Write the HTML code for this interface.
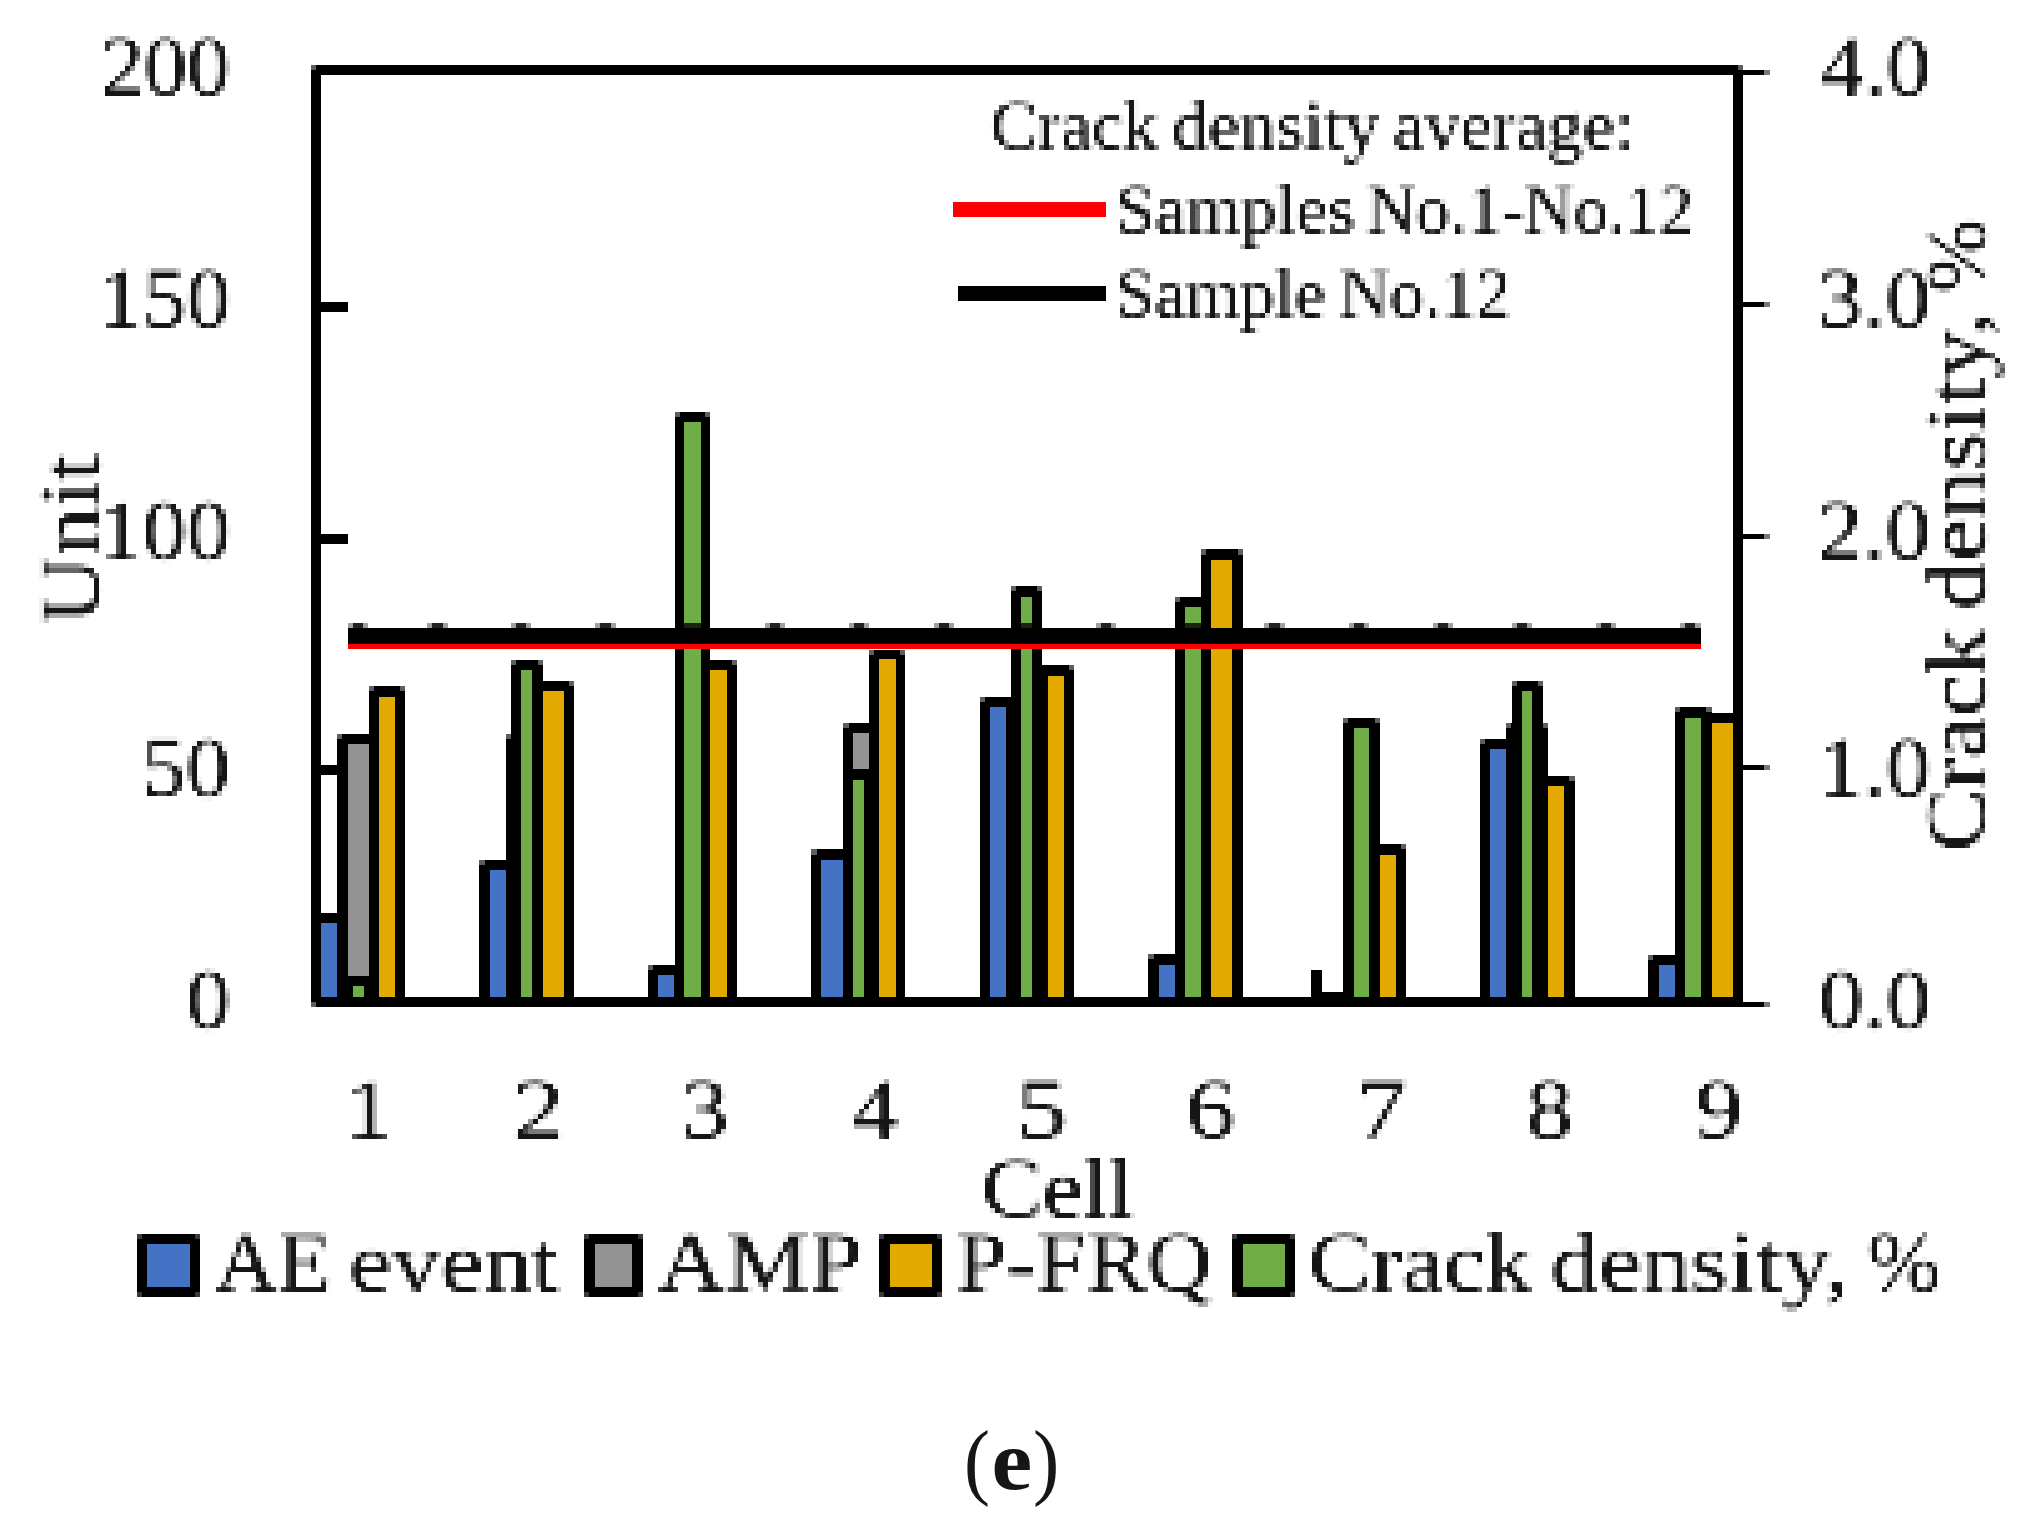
<!DOCTYPE html>
<html lang="en">
<head>
<meta charset="utf-8">
<title>Figure (e)</title>
<style>
html,body{margin:0;padding:0;background:#fff;}
body{width:2040px;height:1531px;overflow:hidden;}
svg{display:block;}
svg text{font-family:"Liberation Serif","DejaVu Serif",serif;fill:#161616;}
</style>
</head>
<body>
<svg width="2040" height="1531" viewBox="0 0 2040 1531">
<defs>
<filter id="f-l0" filterUnits="userSpaceOnUse" x="90" y="23" width="152" height="107" color-interpolation-filters="sRGB"><feGaussianBlur in="SourceGraphic" stdDeviation="1.3" result="b0"/><feComponentTransfer in="b0" result="b"><feFuncA type="linear" slope="1.2" intercept="-0.03"/></feComponentTransfer><feFlood x="92" y="28" width="1" height="1" flood-color="#000" result="f"/><feComposite in="f" in2="f" operator="over" x="90" y="26" width="5" height="5" result="c"/><feTile in="c" result="t"/><feComposite in="b" in2="t" operator="in" result="s"/><feMorphology in="s" operator="dilate" radius="2"/></filter>
<filter id="f-l1" filterUnits="userSpaceOnUse" x="90" y="254" width="152" height="107" color-interpolation-filters="sRGB"><feGaussianBlur in="SourceGraphic" stdDeviation="1.3" result="b0"/><feComponentTransfer in="b0" result="b"><feFuncA type="linear" slope="1.2" intercept="-0.03"/></feComponentTransfer><feFlood x="93" y="260" width="1" height="1" flood-color="#000" result="f"/><feComposite in="f" in2="f" operator="over" x="91" y="258" width="5" height="5" result="c"/><feTile in="c" result="t"/><feComposite in="b" in2="t" operator="in" result="s"/><feMorphology in="s" operator="dilate" radius="2"/></filter>
<filter id="f-l2" filterUnits="userSpaceOnUse" x="90" y="486" width="152" height="107" color-interpolation-filters="sRGB"><feGaussianBlur in="SourceGraphic" stdDeviation="1.3" result="b0"/><feComponentTransfer in="b0" result="b"><feFuncA type="linear" slope="1.2" intercept="-0.03"/></feComponentTransfer><feFlood x="93" y="491" width="1" height="1" flood-color="#000" result="f"/><feComposite in="f" in2="f" operator="over" x="91" y="489" width="5" height="5" result="c"/><feTile in="c" result="t"/><feComposite in="b" in2="t" operator="in" result="s"/><feMorphology in="s" operator="dilate" radius="2"/></filter>
<filter id="f-l3" filterUnits="userSpaceOnUse" x="132" y="723" width="110" height="107" color-interpolation-filters="sRGB"><feGaussianBlur in="SourceGraphic" stdDeviation="1.3" result="b0"/><feComponentTransfer in="b0" result="b"><feFuncA type="linear" slope="1.2" intercept="-0.03"/></feComponentTransfer><feFlood x="134" y="728" width="1" height="1" flood-color="#000" result="f"/><feComposite in="f" in2="f" operator="over" x="132" y="726" width="5" height="5" result="c"/><feTile in="c" result="t"/><feComposite in="b" in2="t" operator="in" result="s"/><feMorphology in="s" operator="dilate" radius="2"/></filter>
<filter id="f-l4" filterUnits="userSpaceOnUse" x="174" y="955" width="68" height="107" color-interpolation-filters="sRGB"><feGaussianBlur in="SourceGraphic" stdDeviation="1.3" result="b0"/><feComponentTransfer in="b0" result="b"><feFuncA type="linear" slope="1.2" intercept="-0.03"/></feComponentTransfer><feFlood x="177" y="960" width="1" height="1" flood-color="#000" result="f"/><feComposite in="f" in2="f" operator="over" x="175" y="958" width="5" height="5" result="c"/><feTile in="c" result="t"/><feComposite in="b" in2="t" operator="in" result="s"/><feMorphology in="s" operator="dilate" radius="2"/></filter>
<filter id="f-r0" filterUnits="userSpaceOnUse" x="1807" y="22" width="136" height="107" color-interpolation-filters="sRGB"><feGaussianBlur in="SourceGraphic" stdDeviation="1.3" result="b0"/><feComponentTransfer in="b0" result="b"><feFuncA type="linear" slope="1.2" intercept="-0.03"/></feComponentTransfer><feFlood x="1809" y="28" width="1" height="1" flood-color="#000" result="f"/><feComposite in="f" in2="f" operator="over" x="1807" y="26" width="5" height="5" result="c"/><feTile in="c" result="t"/><feComposite in="b" in2="t" operator="in" result="s"/><feMorphology in="s" operator="dilate" radius="2"/></filter>
<filter id="f-r1" filterUnits="userSpaceOnUse" x="1807" y="254" width="136" height="107" color-interpolation-filters="sRGB"><feGaussianBlur in="SourceGraphic" stdDeviation="1.3" result="b0"/><feComponentTransfer in="b0" result="b"><feFuncA type="linear" slope="1.2" intercept="-0.03"/></feComponentTransfer><feFlood x="1809" y="260" width="1" height="1" flood-color="#000" result="f"/><feComposite in="f" in2="f" operator="over" x="1807" y="258" width="5" height="5" result="c"/><feTile in="c" result="t"/><feComposite in="b" in2="t" operator="in" result="s"/><feMorphology in="s" operator="dilate" radius="2"/></filter>
<filter id="f-r2" filterUnits="userSpaceOnUse" x="1807" y="486" width="136" height="107" color-interpolation-filters="sRGB"><feGaussianBlur in="SourceGraphic" stdDeviation="1.3" result="b0"/><feComponentTransfer in="b0" result="b"><feFuncA type="linear" slope="1.2" intercept="-0.03"/></feComponentTransfer><feFlood x="1809" y="492" width="1" height="1" flood-color="#000" result="f"/><feComposite in="f" in2="f" operator="over" x="1807" y="490" width="5" height="5" result="c"/><feTile in="c" result="t"/><feComposite in="b" in2="t" operator="in" result="s"/><feMorphology in="s" operator="dilate" radius="2"/></filter>
<filter id="f-r3" filterUnits="userSpaceOnUse" x="1810" y="724" width="132" height="107" color-interpolation-filters="sRGB"><feGaussianBlur in="SourceGraphic" stdDeviation="1.3" result="b0"/><feComponentTransfer in="b0" result="b"><feFuncA type="linear" slope="1.2" intercept="-0.03"/></feComponentTransfer><feFlood x="1813" y="729" width="1" height="1" flood-color="#000" result="f"/><feComposite in="f" in2="f" operator="over" x="1811" y="727" width="5" height="5" result="c"/><feTile in="c" result="t"/><feComposite in="b" in2="t" operator="in" result="s"/><feMorphology in="s" operator="dilate" radius="2"/></filter>
<filter id="f-r4" filterUnits="userSpaceOnUse" x="1807" y="955" width="136" height="107" color-interpolation-filters="sRGB"><feGaussianBlur in="SourceGraphic" stdDeviation="1.3" result="b0"/><feComponentTransfer in="b0" result="b"><feFuncA type="linear" slope="1.2" intercept="-0.03"/></feComponentTransfer><feFlood x="1809" y="960" width="1" height="1" flood-color="#000" result="f"/><feComposite in="f" in2="f" operator="over" x="1807" y="958" width="5" height="5" result="c"/><feTile in="c" result="t"/><feComposite in="b" in2="t" operator="in" result="s"/><feMorphology in="s" operator="dilate" radius="2"/></filter>
<filter id="f-x0" filterUnits="userSpaceOnUse" x="337" y="1065" width="65" height="107" color-interpolation-filters="sRGB"><feGaussianBlur in="SourceGraphic" stdDeviation="1.3" result="b0"/><feComponentTransfer in="b0" result="b"><feFuncA type="linear" slope="1.2" intercept="-0.03"/></feComponentTransfer><feFlood x="339" y="1071" width="1" height="1" flood-color="#000" result="f"/><feComposite in="f" in2="f" operator="over" x="337" y="1069" width="5" height="5" result="c"/><feTile in="c" result="t"/><feComposite in="b" in2="t" operator="in" result="s"/><feMorphology in="s" operator="dilate" radius="2"/></filter>
<filter id="f-x1" filterUnits="userSpaceOnUse" x="502" y="1065" width="72" height="107" color-interpolation-filters="sRGB"><feGaussianBlur in="SourceGraphic" stdDeviation="1.3" result="b0"/><feComponentTransfer in="b0" result="b"><feFuncA type="linear" slope="1.2" intercept="-0.03"/></feComponentTransfer><feFlood x="505" y="1071" width="1" height="1" flood-color="#000" result="f"/><feComposite in="f" in2="f" operator="over" x="503" y="1069" width="5" height="5" result="c"/><feTile in="c" result="t"/><feComposite in="b" in2="t" operator="in" result="s"/><feMorphology in="s" operator="dilate" radius="2"/></filter>
<filter id="f-x2" filterUnits="userSpaceOnUse" x="671" y="1065" width="69" height="107" color-interpolation-filters="sRGB"><feGaussianBlur in="SourceGraphic" stdDeviation="1.3" result="b0"/><feComponentTransfer in="b0" result="b"><feFuncA type="linear" slope="1.2" intercept="-0.03"/></feComponentTransfer><feFlood x="673" y="1071" width="1" height="1" flood-color="#000" result="f"/><feComposite in="f" in2="f" operator="over" x="671" y="1069" width="5" height="5" result="c"/><feTile in="c" result="t"/><feComposite in="b" in2="t" operator="in" result="s"/><feMorphology in="s" operator="dilate" radius="2"/></filter>
<filter id="f-x3" filterUnits="userSpaceOnUse" x="839" y="1065" width="73" height="107" color-interpolation-filters="sRGB"><feGaussianBlur in="SourceGraphic" stdDeviation="1.3" result="b0"/><feComponentTransfer in="b0" result="b"><feFuncA type="linear" slope="1.2" intercept="-0.03"/></feComponentTransfer><feFlood x="841" y="1071" width="1" height="1" flood-color="#000" result="f"/><feComposite in="f" in2="f" operator="over" x="839" y="1069" width="5" height="5" result="c"/><feTile in="c" result="t"/><feComposite in="b" in2="t" operator="in" result="s"/><feMorphology in="s" operator="dilate" radius="2"/></filter>
<filter id="f-x4" filterUnits="userSpaceOnUse" x="1007" y="1065" width="72" height="107" color-interpolation-filters="sRGB"><feGaussianBlur in="SourceGraphic" stdDeviation="1.3" result="b0"/><feComponentTransfer in="b0" result="b"><feFuncA type="linear" slope="1.2" intercept="-0.03"/></feComponentTransfer><feFlood x="1009" y="1071" width="1" height="1" flood-color="#000" result="f"/><feComposite in="f" in2="f" operator="over" x="1007" y="1069" width="5" height="5" result="c"/><feTile in="c" result="t"/><feComposite in="b" in2="t" operator="in" result="s"/><feMorphology in="s" operator="dilate" radius="2"/></filter>
<filter id="f-x5" filterUnits="userSpaceOnUse" x="1175" y="1065" width="72" height="107" color-interpolation-filters="sRGB"><feGaussianBlur in="SourceGraphic" stdDeviation="1.3" result="b0"/><feComponentTransfer in="b0" result="b"><feFuncA type="linear" slope="1.2" intercept="-0.03"/></feComponentTransfer><feFlood x="1177" y="1071" width="1" height="1" flood-color="#000" result="f"/><feComposite in="f" in2="f" operator="over" x="1175" y="1069" width="5" height="5" result="c"/><feTile in="c" result="t"/><feComposite in="b" in2="t" operator="in" result="s"/><feMorphology in="s" operator="dilate" radius="2"/></filter>
<filter id="f-x6" filterUnits="userSpaceOnUse" x="1347" y="1065" width="72" height="107" color-interpolation-filters="sRGB"><feGaussianBlur in="SourceGraphic" stdDeviation="1.3" result="b0"/><feComponentTransfer in="b0" result="b"><feFuncA type="linear" slope="1.2" intercept="-0.03"/></feComponentTransfer><feFlood x="1349" y="1071" width="1" height="1" flood-color="#000" result="f"/><feComposite in="f" in2="f" operator="over" x="1347" y="1069" width="5" height="5" result="c"/><feTile in="c" result="t"/><feComposite in="b" in2="t" operator="in" result="s"/><feMorphology in="s" operator="dilate" radius="2"/></filter>
<filter id="f-x7" filterUnits="userSpaceOnUse" x="1515" y="1065" width="69" height="107" color-interpolation-filters="sRGB"><feGaussianBlur in="SourceGraphic" stdDeviation="1.3" result="b0"/><feComponentTransfer in="b0" result="b"><feFuncA type="linear" slope="1.2" intercept="-0.03"/></feComponentTransfer><feFlood x="1517" y="1071" width="1" height="1" flood-color="#000" result="f"/><feComposite in="f" in2="f" operator="over" x="1515" y="1069" width="5" height="5" result="c"/><feTile in="c" result="t"/><feComposite in="b" in2="t" operator="in" result="s"/><feMorphology in="s" operator="dilate" radius="2"/></filter>
<filter id="f-x8" filterUnits="userSpaceOnUse" x="1684" y="1065" width="70" height="107" color-interpolation-filters="sRGB"><feGaussianBlur in="SourceGraphic" stdDeviation="1.3" result="b0"/><feComponentTransfer in="b0" result="b"><feFuncA type="linear" slope="1.2" intercept="-0.03"/></feComponentTransfer><feFlood x="1686" y="1071" width="1" height="1" flood-color="#000" result="f"/><feComposite in="f" in2="f" operator="over" x="1684" y="1069" width="5" height="5" result="c"/><feTile in="c" result="t"/><feComposite in="b" in2="t" operator="in" result="s"/><feMorphology in="s" operator="dilate" radius="2"/></filter>
<filter id="f-cell" filterUnits="userSpaceOnUse" x="970" y="1145" width="177" height="107" color-interpolation-filters="sRGB"><feGaussianBlur in="SourceGraphic" stdDeviation="1.3" result="b0"/><feComponentTransfer in="b0" result="b"><feFuncA type="linear" slope="1.2" intercept="-0.03"/></feComponentTransfer><feFlood x="972" y="1150" width="1" height="1" flood-color="#000" result="f"/><feComposite in="f" in2="f" operator="over" x="970" y="1148" width="5" height="5" result="c"/><feTile in="c" result="t"/><feComposite in="b" in2="t" operator="in" result="s"/><feMorphology in="s" operator="dilate" radius="2"/></filter>
<filter id="f-lg0" filterUnits="userSpaceOnUse" x="200" y="1219" width="374" height="107" color-interpolation-filters="sRGB"><feGaussianBlur in="SourceGraphic" stdDeviation="1.3" result="b0"/><feComponentTransfer in="b0" result="b"><feFuncA type="linear" slope="1.2" intercept="-0.03"/></feComponentTransfer><feFlood x="203" y="1224" width="1" height="1" flood-color="#000" result="f"/><feComposite in="f" in2="f" operator="over" x="201" y="1222" width="5" height="5" result="c"/><feTile in="c" result="t"/><feComposite in="b" in2="t" operator="in" result="s"/><feMorphology in="s" operator="dilate" radius="2"/></filter>
<filter id="f-lg1" filterUnits="userSpaceOnUse" x="643" y="1219" width="231" height="107" color-interpolation-filters="sRGB"><feGaussianBlur in="SourceGraphic" stdDeviation="1.3" result="b0"/><feComponentTransfer in="b0" result="b"><feFuncA type="linear" slope="1.2" intercept="-0.03"/></feComponentTransfer><feFlood x="645" y="1224" width="1" height="1" flood-color="#000" result="f"/><feComposite in="f" in2="f" operator="over" x="643" y="1222" width="5" height="5" result="c"/><feTile in="c" result="t"/><feComposite in="b" in2="t" operator="in" result="s"/><feMorphology in="s" operator="dilate" radius="2"/></filter>
<filter id="f-lg2" filterUnits="userSpaceOnUse" x="943" y="1219" width="283" height="107" color-interpolation-filters="sRGB"><feGaussianBlur in="SourceGraphic" stdDeviation="1.3" result="b0"/><feComponentTransfer in="b0" result="b"><feFuncA type="linear" slope="1.2" intercept="-0.03"/></feComponentTransfer><feFlood x="945" y="1224" width="1" height="1" flood-color="#000" result="f"/><feComposite in="f" in2="f" operator="over" x="943" y="1222" width="5" height="5" result="c"/><feTile in="c" result="t"/><feComposite in="b" in2="t" operator="in" result="s"/><feMorphology in="s" operator="dilate" radius="2"/></filter>
<filter id="f-lg3" filterUnits="userSpaceOnUse" x="1296" y="1219" width="656" height="107" color-interpolation-filters="sRGB"><feGaussianBlur in="SourceGraphic" stdDeviation="1.3" result="b0"/><feComponentTransfer in="b0" result="b"><feFuncA type="linear" slope="1.2" intercept="-0.03"/></feComponentTransfer><feFlood x="1299" y="1224" width="1" height="1" flood-color="#000" result="f"/><feComposite in="f" in2="f" operator="over" x="1297" y="1222" width="5" height="5" result="c"/><feTile in="c" result="t"/><feComposite in="b" in2="t" operator="in" result="s"/><feMorphology in="s" operator="dilate" radius="2"/></filter>
<filter id="f-t0" filterUnits="userSpaceOnUse" x="978" y="89" width="665" height="88" color-interpolation-filters="sRGB"><feGaussianBlur in="SourceGraphic" stdDeviation="1.3" result="b0"/><feComponentTransfer in="b0" result="b"><feFuncA type="linear" slope="1.2" intercept="-0.03"/></feComponentTransfer><feFlood x="981" y="92" width="1" height="1" flood-color="#000" result="f"/><feComposite in="f" in2="f" operator="over" x="979" y="90" width="5" height="5" result="c"/><feTile in="c" result="t"/><feComposite in="b" in2="t" operator="in" result="s"/><feMorphology in="s" operator="dilate" radius="2"/></filter>
<filter id="f-t1" filterUnits="userSpaceOnUse" x="1105" y="173" width="600" height="88" color-interpolation-filters="sRGB"><feGaussianBlur in="SourceGraphic" stdDeviation="1.3" result="b0"/><feComponentTransfer in="b0" result="b"><feFuncA type="linear" slope="1.2" intercept="-0.03"/></feComponentTransfer><feFlood x="1107" y="176" width="1" height="1" flood-color="#000" result="f"/><feComposite in="f" in2="f" operator="over" x="1105" y="174" width="5" height="5" result="c"/><feTile in="c" result="t"/><feComposite in="b" in2="t" operator="in" result="s"/><feMorphology in="s" operator="dilate" radius="2"/></filter>
<filter id="f-t2" filterUnits="userSpaceOnUse" x="1105" y="257" width="417" height="88" color-interpolation-filters="sRGB"><feGaussianBlur in="SourceGraphic" stdDeviation="1.3" result="b0"/><feComponentTransfer in="b0" result="b"><feFuncA type="linear" slope="1.2" intercept="-0.03"/></feComponentTransfer><feFlood x="1107" y="260" width="1" height="1" flood-color="#000" result="f"/><feComposite in="f" in2="f" operator="over" x="1105" y="258" width="5" height="5" result="c"/><feTile in="c" result="t"/><feComposite in="b" in2="t" operator="in" result="s"/><feMorphology in="s" operator="dilate" radius="2"/></filter>
<filter id="f-unit" filterUnits="userSpaceOnUse" x="27" y="439" width="107" height="199" color-interpolation-filters="sRGB"><feGaussianBlur in="SourceGraphic" stdDeviation="1.3" result="b0"/><feComponentTransfer in="b0" result="b"><feFuncA type="linear" slope="1.2" intercept="-0.03"/></feComponentTransfer><feFlood x="31" y="445" width="1" height="1" flood-color="#000" result="f"/><feComposite in="f" in2="f" operator="over" x="29" y="443" width="5" height="5" result="c"/><feTile in="c" result="t"/><feComposite in="b" in2="t" operator="in" result="s"/><feMorphology in="s" operator="dilate" radius="2"/></filter>
<filter id="f-cd" filterUnits="userSpaceOnUse" x="1912" y="207" width="107" height="657" color-interpolation-filters="sRGB"><feGaussianBlur in="SourceGraphic" stdDeviation="1.3" result="b0"/><feComponentTransfer in="b0" result="b"><feFuncA type="linear" slope="1.2" intercept="-0.03"/></feComponentTransfer><feFlood x="1917" y="210" width="1" height="1" flood-color="#000" result="f"/><feComposite in="f" in2="f" operator="over" x="1915" y="208" width="5" height="5" result="c"/><feTile in="c" result="t"/><feComposite in="b" in2="t" operator="in" result="s"/><feMorphology in="s" operator="dilate" radius="2"/></filter>
</defs>
<rect width="2040" height="1531" fill="#fff"/>
<g shape-rendering="crispEdges">
<g id="axes">
<rect x="311.0" y="64.8" width="1432.0" height="10.1"/>
<rect x="311.0" y="997.0" width="1432.0" height="10.1"/>
<rect x="311.0" y="64.8" width="10.0" height="942.3"/>
<rect x="1733.0" y="64.8" width="10.0" height="942.3"/>
<rect x="311.0" y="64.8" width="5.1" height="5.1" fill="#5e5e5e"/>
<rect x="311.0" y="1002.0" width="5.1" height="5.1" fill="#5e5e5e"/>
<rect x="321.0" y="301.5" width="26.5" height="10.1"/>
<rect x="321.0" y="533.5" width="26.5" height="10.1"/>
<rect x="321.0" y="765.3" width="26.5" height="10.1"/>
<rect x="1743.0" y="70.0" width="26.5" height="5.1"/>
<rect x="1764.4" y="70.0" width="5.1" height="5.1" fill="#777"/>
<rect x="1743.0" y="301.6" width="26.5" height="5.1"/>
<rect x="1764.4" y="301.6" width="5.1" height="5.1" fill="#777"/>
<rect x="1743.0" y="533.6" width="26.5" height="5.1"/>
<rect x="1764.4" y="533.6" width="5.1" height="5.1" fill="#777"/>
<rect x="1743.0" y="765.3" width="26.5" height="5.1"/>
<rect x="1764.4" y="765.3" width="5.1" height="5.1" fill="#777"/>
<rect x="1743.0" y="1002.0" width="26.5" height="5.1"/>
<rect x="1764.4" y="1002.0" width="5.1" height="5.1" fill="#777"/>
<rect x="1737.9" y="64.8" width="5.1" height="5.1" fill="#5e5e5e"/>
</g>
<g id="bars-outline">
<rect x="311.0" y="912.5" width="36.6" height="84.5"/>
<rect x="337.2" y="733.8" width="41.8" height="263.2"/>
<rect x="368.9" y="686.2" width="36.5" height="310.8"/>
<rect x="479.4" y="859.9" width="36.6" height="137.1"/>
<rect x="505.9" y="733.8" width="15.1" height="263.2"/>
<rect x="510.9" y="659.9" width="31.8" height="337.1"/>
<rect x="532.0" y="681.0" width="41.7" height="316.0"/>
<rect x="648.0" y="965.3" width="36.5" height="31.7"/>
<rect x="674.5" y="412.1" width="35.7" height="584.9"/>
<rect x="700.9" y="660.3" width="36.0" height="336.7"/>
<rect x="811.4" y="849.4" width="41.7" height="147.6"/>
<rect x="843.4" y="723.1" width="35.6" height="273.9"/>
<rect x="868.9" y="649.8" width="36.4" height="347.2"/>
<rect x="979.6" y="697.0" width="41.8" height="300.0"/>
<rect x="1011.3" y="586.3" width="31.0" height="410.7"/>
<rect x="1037.3" y="665.3" width="36.3" height="331.7"/>
<rect x="1148.4" y="954.3" width="36.3" height="42.7"/>
<rect x="1174.5" y="596.7" width="36.5" height="400.3"/>
<rect x="1201.0" y="549.4" width="41.8" height="447.6"/>
<rect x="1311.3" y="970.3" width="10.2" height="26.7"/>
<rect x="1321.5" y="991.5" width="22.0" height="5.5"/>
<rect x="1343.3" y="717.6" width="36.3" height="279.4"/>
<rect x="1369.3" y="844.0" width="36.4" height="153.0"/>
<rect x="1480.1" y="738.7" width="36.4" height="258.3"/>
<rect x="1506.3" y="723.1" width="42.0" height="273.9"/>
<rect x="1511.7" y="681.0" width="31.2" height="316.0"/>
<rect x="1538.0" y="775.7" width="36.5" height="221.3"/>
<rect x="1648.3" y="954.8" width="36.7" height="42.2"/>
<rect x="1675.0" y="707.2" width="36.5" height="289.8"/>
<rect x="1701.0" y="712.6" width="42.0" height="284.4"/>
<rect x="337.2" y="733.8" width="5.1" height="5.1" fill="#5e5e5e"/>
<rect x="368.9" y="686.2" width="5.1" height="5.1" fill="#5e5e5e"/>
<rect x="400.3" y="686.2" width="5.1" height="5.1" fill="#5e5e5e"/>
<rect x="479.4" y="859.9" width="5.1" height="5.1" fill="#5e5e5e"/>
<rect x="505.9" y="733.8" width="5.1" height="5.1" fill="#5e5e5e"/>
<rect x="510.9" y="659.9" width="5.1" height="5.1" fill="#5e5e5e"/>
<rect x="537.6" y="659.9" width="5.1" height="5.1" fill="#5e5e5e"/>
<rect x="568.6" y="681.0" width="5.1" height="5.1" fill="#5e5e5e"/>
<rect x="648.0" y="965.3" width="5.1" height="5.1" fill="#5e5e5e"/>
<rect x="674.5" y="412.1" width="5.1" height="5.1" fill="#5e5e5e"/>
<rect x="705.1" y="412.1" width="5.1" height="5.1" fill="#5e5e5e"/>
<rect x="731.8" y="660.3" width="5.1" height="5.1" fill="#5e5e5e"/>
<rect x="811.4" y="849.4" width="5.1" height="5.1" fill="#5e5e5e"/>
<rect x="843.4" y="723.1" width="5.1" height="5.1" fill="#5e5e5e"/>
<rect x="868.9" y="649.8" width="5.1" height="5.1" fill="#5e5e5e"/>
<rect x="900.2" y="649.8" width="5.1" height="5.1" fill="#5e5e5e"/>
<rect x="979.6" y="697.0" width="5.1" height="5.1" fill="#5e5e5e"/>
<rect x="1011.3" y="586.3" width="5.1" height="5.1" fill="#5e5e5e"/>
<rect x="1037.2" y="586.3" width="5.1" height="5.1" fill="#5e5e5e"/>
<rect x="1068.5" y="665.3" width="5.1" height="5.1" fill="#5e5e5e"/>
<rect x="1148.4" y="954.3" width="5.1" height="5.1" fill="#5e5e5e"/>
<rect x="1174.5" y="596.7" width="5.1" height="5.1" fill="#5e5e5e"/>
<rect x="1201.0" y="549.4" width="5.1" height="5.1" fill="#5e5e5e"/>
<rect x="1237.7" y="549.4" width="5.1" height="5.1" fill="#5e5e5e"/>
<rect x="1343.3" y="717.6" width="5.1" height="5.1" fill="#5e5e5e"/>
<rect x="1374.5" y="717.6" width="5.1" height="5.1" fill="#5e5e5e"/>
<rect x="1400.6" y="844.0" width="5.1" height="5.1" fill="#5e5e5e"/>
<rect x="1480.1" y="738.7" width="5.1" height="5.1" fill="#5e5e5e"/>
<rect x="1506.3" y="723.1" width="5.1" height="5.1" fill="#5e5e5e"/>
<rect x="1543.2" y="723.1" width="5.1" height="5.1" fill="#5e5e5e"/>
<rect x="1511.7" y="681.0" width="5.1" height="5.1" fill="#5e5e5e"/>
<rect x="1537.8" y="681.0" width="5.1" height="5.1" fill="#5e5e5e"/>
<rect x="1569.4" y="775.7" width="5.1" height="5.1" fill="#5e5e5e"/>
<rect x="1648.3" y="954.8" width="5.1" height="5.1" fill="#5e5e5e"/>
<rect x="1675.0" y="707.2" width="5.1" height="5.1" fill="#5e5e5e"/>
<rect x="1706.4" y="707.2" width="5.1" height="5.1" fill="#5e5e5e"/>
</g>
<g id="bars-fill">
<rect x="321.0" y="923.0" width="16.2" height="74.0" fill="#4472C4"/>
<rect x="347.6" y="743.7" width="21.3" height="231.9" fill="#939393"/>
<rect x="352.8" y="985.5" width="10.9" height="11.5" fill="#70AD47"/>
<rect x="378.9" y="696.6" width="16.3" height="300.4" fill="#E2AA00"/>
<rect x="489.8" y="870.3" width="16.1" height="126.7" fill="#4472C4"/>
<rect x="520.8" y="669.8" width="11.2" height="327.2" fill="#70AD47"/>
<rect x="542.7" y="691.4" width="20.8" height="305.6" fill="#E2AA00"/>
<rect x="658.0" y="975.3" width="16.4" height="21.7" fill="#4472C4"/>
<rect x="684.4" y="422.3" width="16.5" height="574.7" fill="#70AD47"/>
<rect x="710.2" y="670.0" width="17.0" height="327.0" fill="#E2AA00"/>
<rect x="821.1" y="859.5" width="22.3" height="137.5" fill="#4472C4"/>
<rect x="853.1" y="732.8" width="15.8" height="36.4" fill="#939393"/>
<rect x="853.1" y="779.8" width="10.9" height="217.2" fill="#70AD47"/>
<rect x="879.0" y="659.1" width="17.0" height="337.9" fill="#E2AA00"/>
<rect x="990.0" y="707.1" width="15.7" height="289.9" fill="#4472C4"/>
<rect x="1021.4" y="596.7" width="10.4" height="400.3" fill="#70AD47"/>
<rect x="1047.5" y="675.8" width="16.3" height="321.2" fill="#E2AA00"/>
<rect x="1158.5" y="964.7" width="16.0" height="32.3" fill="#4472C4"/>
<rect x="1184.7" y="607.2" width="16.3" height="389.8" fill="#70AD47"/>
<rect x="1210.8" y="559.8" width="21.2" height="437.2" fill="#E2AA00"/>
<rect x="1353.6" y="728.1" width="15.7" height="268.9" fill="#70AD47"/>
<rect x="1379.5" y="854.5" width="16.0" height="142.5" fill="#E2AA00"/>
<rect x="1490.4" y="749.2" width="15.9" height="247.8" fill="#4472C4"/>
<rect x="1521.9" y="691.3" width="10.5" height="305.7" fill="#70AD47"/>
<rect x="1548.3" y="785.9" width="15.7" height="211.1" fill="#E2AA00"/>
<rect x="1658.8" y="964.9" width="16.2" height="32.1" fill="#4472C4"/>
<rect x="1685.0" y="717.7" width="16.0" height="279.3" fill="#70AD47"/>
<rect x="1711.5" y="723.1" width="21.5" height="273.9" fill="#E2AA00"/>
</g>
<g id="avg-lines">
<rect x="347.6" y="633.0" width="1353.4" height="16.0" fill="#FF0000"/>
<rect x="347.6" y="628.0" width="1353.4" height="15.7"/>
<rect x="347.6" y="622.9" width="20.6" height="5.3" fill="#a0a0a0"/>
<rect x="352.7" y="622.9" width="10.4" height="5.3" fill="#222"/>
<rect x="427.0" y="622.9" width="20.6" height="5.3" fill="#a0a0a0"/>
<rect x="432.1" y="622.9" width="10.4" height="5.3" fill="#222"/>
<rect x="510.8" y="622.9" width="20.6" height="5.3" fill="#a0a0a0"/>
<rect x="515.9" y="622.9" width="10.4" height="5.3" fill="#222"/>
<rect x="595.0" y="622.9" width="20.6" height="5.3" fill="#a0a0a0"/>
<rect x="600.1" y="622.9" width="10.4" height="5.3" fill="#222"/>
<rect x="764.8" y="622.9" width="20.6" height="5.3" fill="#a0a0a0"/>
<rect x="769.9" y="622.9" width="10.4" height="5.3" fill="#222"/>
<rect x="848.6" y="622.9" width="20.6" height="5.3" fill="#a0a0a0"/>
<rect x="853.7" y="622.9" width="10.4" height="5.3" fill="#222"/>
<rect x="933.6" y="622.9" width="20.6" height="5.3" fill="#a0a0a0"/>
<rect x="938.7" y="622.9" width="10.4" height="5.3" fill="#222"/>
<rect x="1095.5" y="622.9" width="20.6" height="5.3" fill="#a0a0a0"/>
<rect x="1100.6" y="622.9" width="10.4" height="5.3" fill="#222"/>
<rect x="1264.3" y="622.9" width="20.6" height="5.3" fill="#a0a0a0"/>
<rect x="1269.4" y="622.9" width="10.4" height="5.3" fill="#222"/>
<rect x="1348.6" y="622.9" width="20.6" height="5.3" fill="#a0a0a0"/>
<rect x="1353.7" y="622.9" width="10.4" height="5.3" fill="#222"/>
<rect x="1432.7" y="622.9" width="20.6" height="5.3" fill="#a0a0a0"/>
<rect x="1437.8" y="622.9" width="10.4" height="5.3" fill="#222"/>
<rect x="1511.7" y="622.9" width="20.6" height="5.3" fill="#a0a0a0"/>
<rect x="1516.8" y="622.9" width="10.4" height="5.3" fill="#222"/>
<rect x="1595.8" y="622.9" width="20.6" height="5.3" fill="#a0a0a0"/>
<rect x="1600.9" y="622.9" width="10.4" height="5.3" fill="#222"/>
<rect x="1679.9" y="622.9" width="20.6" height="5.3" fill="#a0a0a0"/>
<rect x="1685.0" y="622.9" width="10.4" height="5.3" fill="#222"/>
<rect x="684.4" y="622.9" width="16.5" height="5.3" fill="#18240f"/>
<rect x="1021.4" y="622.9" width="10.4" height="5.3" fill="#18240f"/>
<rect x="1184.7" y="622.9" width="16.3" height="5.3" fill="#18240f"/>
</g>
<g id="legend-marks">
<rect x="953.4" y="201.6" width="152.2" height="15.3" fill="#FF0000"/>
<rect x="958.4" y="285.7" width="147.2" height="15.3"/>
<rect x="136.7" y="1233.8" width="63.4" height="63.2"/><rect x="147.0" y="1244.3" width="42.9" height="42.3" fill="#4472C4"/><rect x="136.7" y="1233.8" width="5.1" height="5.1" fill="#3a3a3a"/><rect x="195.0" y="1233.8" width="5.1" height="5.1" fill="#3a3a3a"/><rect x="136.7" y="1291.9" width="5.1" height="5.1" fill="#3a3a3a"/><rect x="195.0" y="1291.9" width="5.1" height="5.1" fill="#3a3a3a"/>
<rect x="584.0" y="1233.8" width="58.6" height="63.2"/><rect x="594.8" y="1244.3" width="37.5" height="42.3" fill="#939393"/><rect x="584.0" y="1233.8" width="5.1" height="5.1" fill="#3a3a3a"/><rect x="637.5" y="1233.8" width="5.1" height="5.1" fill="#3a3a3a"/><rect x="584.0" y="1291.9" width="5.1" height="5.1" fill="#3a3a3a"/><rect x="637.5" y="1291.9" width="5.1" height="5.1" fill="#3a3a3a"/>
<rect x="879.1" y="1233.8" width="63.3" height="63.2"/><rect x="890.1" y="1244.3" width="42.0" height="42.3" fill="#E2AA00"/><rect x="879.1" y="1233.8" width="5.1" height="5.1" fill="#3a3a3a"/><rect x="937.3" y="1233.8" width="5.1" height="5.1" fill="#3a3a3a"/><rect x="879.1" y="1291.9" width="5.1" height="5.1" fill="#3a3a3a"/><rect x="937.3" y="1291.9" width="5.1" height="5.1" fill="#3a3a3a"/>
<rect x="1231.7" y="1233.8" width="63.3" height="63.2"/><rect x="1242.8" y="1244.3" width="41.8" height="42.3" fill="#70AD47"/><rect x="1231.7" y="1233.8" width="5.1" height="5.1" fill="#3a3a3a"/><rect x="1289.9" y="1233.8" width="5.1" height="5.1" fill="#3a3a3a"/><rect x="1231.7" y="1291.9" width="5.1" height="5.1" fill="#3a3a3a"/><rect x="1289.9" y="1291.9" width="5.1" height="5.1" fill="#3a3a3a"/>
</g>
</g>
<g id="labels">
<g filter="url(#f-l0)"><text id="l0" y="95.4" font-size="85"><tspan x="101.0" textLength="129.1" lengthAdjust="spacingAndGlyphs">200</tspan></text></g>
<g filter="url(#f-l1)"><text id="l1" y="326.8" font-size="85"><tspan x="98.6" textLength="132.0" lengthAdjust="spacingAndGlyphs">150</tspan></text></g>
<g filter="url(#f-l2)"><text id="l2" y="558.5" font-size="85"><tspan x="98.6" textLength="132.0" lengthAdjust="spacingAndGlyphs">100</tspan></text></g>
<g filter="url(#f-l3)"><text id="l3" y="795.7" font-size="85"><tspan x="142.0" textLength="88.0" lengthAdjust="spacingAndGlyphs">50</tspan></text></g>
<g filter="url(#f-l4)"><text id="l4" y="1027.5" font-size="85"><tspan x="186.5" textLength="44.0" lengthAdjust="spacingAndGlyphs">0</tspan></text></g>
<g filter="url(#f-r0)"><text id="r0" y="95.0" font-size="85"><tspan x="1819.9" textLength="110.8" lengthAdjust="spacingAndGlyphs">4.0</tspan></text></g>
<g filter="url(#f-r1)"><text id="r1" y="326.8" font-size="85"><tspan x="1817.7" textLength="113.0" lengthAdjust="spacingAndGlyphs">3.0</tspan></text></g>
<g filter="url(#f-r2)"><text id="r2" y="558.7" font-size="85"><tspan x="1817.7" textLength="113.0" lengthAdjust="spacingAndGlyphs">2.0</tspan></text></g>
<g filter="url(#f-r3)"><text id="r3" y="796.4" font-size="85"><tspan x="1818.1" textLength="112.7" lengthAdjust="spacingAndGlyphs">1.0</tspan></text></g>
<g filter="url(#f-r4)"><text id="r4" y="1027.6" font-size="85"><tspan x="1818.8" textLength="111.9" lengthAdjust="spacingAndGlyphs">0.0</tspan></text></g>
<g filter="url(#f-x0)"><text id="x0" y="1138.2" font-size="85"><tspan x="344.6" textLength="48.0" lengthAdjust="spacingAndGlyphs">1</tspan></text></g>
<g filter="url(#f-x1)"><text id="x1" y="1138.2" font-size="85"><tspan x="512.6" textLength="51.9" lengthAdjust="spacingAndGlyphs">2</tspan></text></g>
<g filter="url(#f-x2)"><text id="x2" y="1138.2" font-size="85"><tspan x="681.5" textLength="47.4" lengthAdjust="spacingAndGlyphs">3</tspan></text></g>
<g filter="url(#f-x3)"><text id="x3" y="1138.2" font-size="85"><tspan x="851.8" textLength="46.3" lengthAdjust="spacingAndGlyphs">4</tspan></text></g>
<g filter="url(#f-x4)"><text id="x4" y="1138.2" font-size="85"><tspan x="1016.3" textLength="51.5" lengthAdjust="spacingAndGlyphs">5</tspan></text></g>
<g filter="url(#f-x5)"><text id="x5" y="1138.2" font-size="85"><tspan x="1185.9" textLength="49.1" lengthAdjust="spacingAndGlyphs">6</tspan></text></g>
<g filter="url(#f-x6)"><text id="x6" y="1138.2" font-size="85"><tspan x="1356.6" textLength="50.4" lengthAdjust="spacingAndGlyphs">7</tspan></text></g>
<g filter="url(#f-x7)"><text id="x7" y="1138.2" font-size="85"><tspan x="1526.8" textLength="46.0" lengthAdjust="spacingAndGlyphs">8</tspan></text></g>
<g filter="url(#f-x8)"><text id="x8" y="1138.2" font-size="85"><tspan x="1695.7" textLength="46.6" lengthAdjust="spacingAndGlyphs">9</tspan></text></g>
<g filter="url(#f-cell)"><text id="cell" y="1217.3" font-size="85"><tspan x="981.8" textLength="151.9" lengthAdjust="spacingAndGlyphs">Cell</tspan></text></g>
<g filter="url(#f-lg0)"><text id="lg0" y="1291.4" font-size="85"><tspan x="214.6" textLength="117.0" lengthAdjust="spacingAndGlyphs">AE</tspan> <tspan x="349.0" textLength="209.8" lengthAdjust="spacingAndGlyphs">event</tspan></text></g>
<g filter="url(#f-lg1)"><text id="lg1" y="1291.4" font-size="85"><tspan x="656.9" textLength="205.7" lengthAdjust="spacingAndGlyphs">AMP</tspan></text></g>
<g filter="url(#f-lg2)"><text id="lg2" y="1291.4" font-size="85"><tspan x="956.4" textLength="255.5" lengthAdjust="spacingAndGlyphs">P-FRQ</tspan></text></g>
<g filter="url(#f-lg3)"><text id="lg3" y="1291.4" font-size="85"><tspan x="1308.5" textLength="223.1" lengthAdjust="spacingAndGlyphs">Crack</tspan> <tspan x="1550.6" textLength="298.1" lengthAdjust="spacingAndGlyphs">density,</tspan> <tspan x="1867.5" textLength="73.1" lengthAdjust="spacingAndGlyphs">%</tspan></text></g>
<g filter="url(#f-t0)"><text id="t0" y="148.8" font-size="70"><tspan x="990.5" textLength="167.7" lengthAdjust="spacingAndGlyphs">Crack</tspan> <tspan x="1171.9" textLength="208.1" lengthAdjust="spacingAndGlyphs">density</tspan> <tspan x="1393.0" textLength="241.5" lengthAdjust="spacingAndGlyphs">average:</tspan></text></g>
<g filter="url(#f-t1)"><text id="t1" y="233.0" font-size="70"><tspan x="1115.4" textLength="239.8" lengthAdjust="spacingAndGlyphs">Samples</tspan> <tspan x="1366.3" textLength="327.3" lengthAdjust="spacingAndGlyphs">No.1-No.12</tspan></text></g>
<g filter="url(#f-t2)"><text id="t2" y="317.1" font-size="70"><tspan x="1115.5" textLength="210.1" lengthAdjust="spacingAndGlyphs">Sample</tspan> <tspan x="1339.5" textLength="171.2" lengthAdjust="spacingAndGlyphs">No.12</tspan></text></g>
<g filter="url(#f-unit)"><text id="unit" y="99.3" font-size="85" transform="rotate(-90)"><tspan x="-624.9" textLength="170.6" lengthAdjust="spacingAndGlyphs">Unit</tspan></text></g>
<g filter="url(#f-cd)"><text id="cd" y="1985.0" font-size="85" transform="rotate(-90)"><tspan x="-851.7" textLength="223.3" lengthAdjust="spacingAndGlyphs">Crack</tspan> <tspan x="-610.1" textLength="298.4" lengthAdjust="spacingAndGlyphs">density,</tspan> <tspan x="-293.1" textLength="73.9" lengthAdjust="spacingAndGlyphs">%</tspan></text></g>
</g>
<g id="caption">
<text id="c0" y="1489.0" font-size="85" fill="#000"><tspan x="964.1" textLength="26.0" lengthAdjust="spacingAndGlyphs">(</tspan></text>
<text id="c1" y="1489.0" font-size="85" font-weight="bold" fill="#000"><tspan x="991.5" textLength="40.7" lengthAdjust="spacingAndGlyphs">e</tspan></text>
<text id="c2" y="1489.0" font-size="85" fill="#000"><tspan x="1033.1" textLength="26.3" lengthAdjust="spacingAndGlyphs">)</tspan></text>
</g>
</svg>
</body>
</html>
